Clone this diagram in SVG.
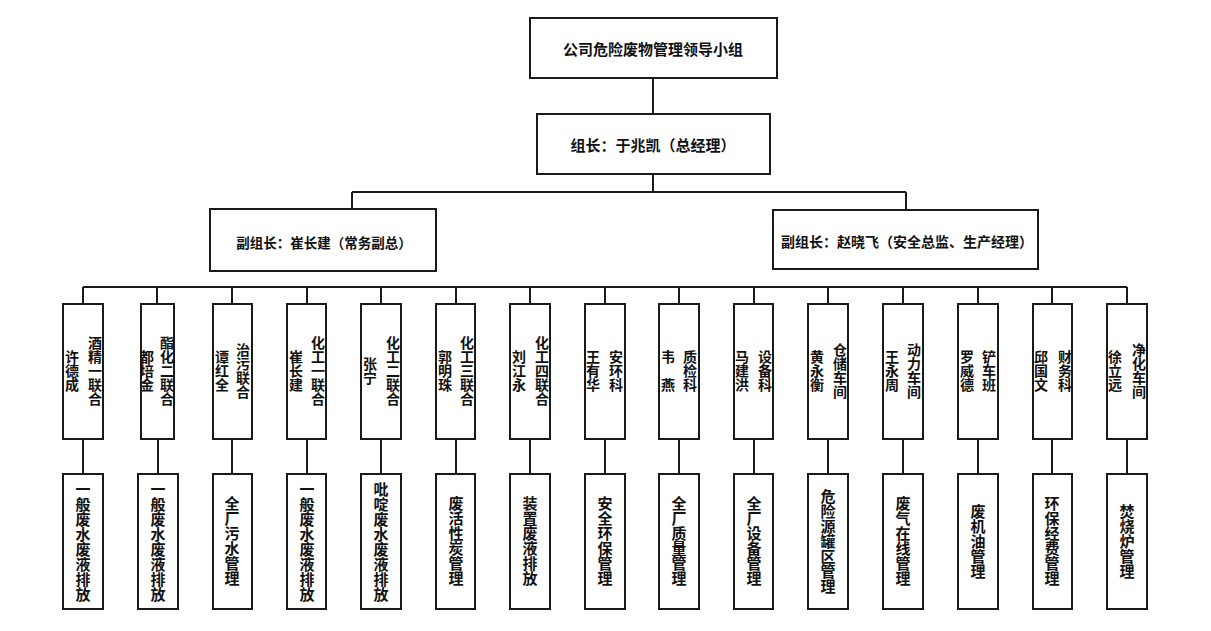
<svg xmlns="http://www.w3.org/2000/svg" width="1211" height="631" viewBox="0 0 1211 631">
<style>
.box{fill:#fff;stroke:#1a1a1a;stroke-width:2}
.ln{stroke:#1a1a1a;stroke-width:2;fill:none}
text{font-family:"Noto Sans CJK SC","Liberation Serif",serif;font-weight:bold;fill:#111}
.h{text-anchor:middle;dominant-baseline:central}
.v{writing-mode:vertical-rl;text-anchor:middle;font-size:14px}
.v4{writing-mode:vertical-rl;text-anchor:middle;font-size:15px}
</style>
<rect width="1211" height="631" fill="#fff"/>
<g id="connectors">
<path class="ln" d="M653 78V114M653 174V192M352 192H906M352 192V209M906 192V210M83 287H1127"/>
<path class="ln" d="M83 287V304M157 287V304M232 287V304M307 287V304M381 287V304M456 287V304M530 287V304M605 287V304M679 287V304M754 287V304M828 287V304M903 287V304M978 287V304M1052 287V304M1127 287V304"/>
<path class="ln" d="M83 439V474M158 439V474M232 439V474M307 439V474M381 439V474M456 439V474M530 439V474M605 439V474M679 439V474M754 439V474M828 439V474M903 439V474M978 439V474M1052 439V474M1127 439V474"/>
</g>
<g id="n-top"><rect class="box" x="530" y="18" width="247" height="60"/><text class="h" x="653" y="48" font-size="15">公司危险废物管理领导小组</text></g>
<g id="n-leader"><rect class="box" x="537" y="114" width="233" height="60"/><text class="h" x="653" y="144" font-size="15">组长：于兆凯（总经理）</text></g>
<g id="n-vice1"><rect class="box" x="210" y="209" width="226" height="62"/><text class="h" x="324" y="242" font-size="13.5">副组长：崔长建（常务副总）</text></g>
<g id="n-vice2"><rect class="box" x="773" y="210" width="265" height="59"/><text class="h" x="907" y="241" font-size="14">副组长：赵晓飞（安全总监、生产经理）</text></g>

<g id="n-d1"><rect class="box" x="63" y="304" width="40" height="135"/><text class="v" x="95" y="371">酒精一联合</text><text class="v" x="72" y="371">许德成</text></g>
<g id="n-d2"><rect class="box" x="141" y="304" width="33" height="135"/><text class="v" x="167" y="371">酯化二联合</text><text class="v" x="147" y="371">都培金</text></g>
<g id="n-d3"><rect class="box" x="213" y="304" width="39" height="135"/><text class="v" x="243" y="371">治污联合</text><text class="v" x="222" y="371">谭红全</text></g>
<g id="n-d4"><rect class="box" x="287" y="304" width="39" height="135"/><text class="v" x="318" y="371">化工一联合</text><text class="v" x="296" y="371">崔长建</text></g>
<g id="n-d5"><rect class="box" x="361" y="304" width="40" height="135"/><text class="v" x="393" y="371">化工二联合</text><text class="v" x="370" y="371">张宁</text></g>
<g id="n-d6"><rect class="box" x="436" y="304" width="39" height="135"/><text class="v" x="467" y="371">化工三联合</text><text class="v" x="445" y="371">郭明珠</text></g>
<g id="n-d7"><rect class="box" x="510" y="304" width="40" height="135"/><text class="v" x="542" y="371">化工四联合</text><text class="v" x="519" y="371">刘江永</text></g>
<g id="n-d8"><rect class="box" x="585" y="304" width="40" height="135"/><text class="v" x="616" y="371">安环科</text><text class="v" x="593" y="371">王有华</text></g>
<g id="n-d9"><rect class="box" x="659" y="304" width="40" height="135"/><text class="v" x="690" y="371">质检科</text><text class="v" x="668" y="371">韦　燕</text></g>
<g id="n-d10"><rect class="box" x="734" y="304" width="39" height="135"/><text class="v" x="765" y="371">设备科</text><text class="v" x="742" y="371">马建洪</text></g>
<g id="n-d11"><rect class="box" x="808" y="304" width="40" height="135"/><text class="v" x="840" y="371">仓储车间</text><text class="v" x="817" y="371">黄永衡</text></g>
<g id="n-d12"><rect class="box" x="883" y="304" width="40" height="135"/><text class="v" x="914" y="371">动力车间</text><text class="v" x="892" y="371">王永周</text></g>
<g id="n-d13"><rect class="box" x="958" y="304" width="40" height="135"/><text class="v" x="989" y="371">铲车班</text><text class="v" x="967" y="371">罗威德</text></g>
<g id="n-d14"><rect class="box" x="1033" y="304" width="39" height="135"/><text class="v" x="1065" y="371">财务科</text><text class="v" x="1041" y="371">邱国文</text></g>
<g id="n-d15"><rect class="box" x="1107" y="304" width="40" height="135"/><text class="v" x="1139" y="371">净化车间</text><text class="v" x="1115" y="371">徐立远</text></g>

<g id="n-t1"><rect class="box" x="63" y="474" width="40" height="135"/><text class="v4" x="83" y="542">一般废水废液排放</text></g>
<g id="n-t2"><rect class="box" x="138" y="474" width="40" height="135"/><text class="v4" x="158" y="542">一般废水废液排放</text></g>
<g id="n-t3"><rect class="box" x="213" y="474" width="39" height="135"/><text class="v4" x="232" y="541">全厂污水管理</text></g>
<g id="n-t4"><rect class="box" x="287" y="474" width="39" height="135"/><text class="v4" x="307" y="542">一般废水废液排放</text></g>
<g id="n-t5"><rect class="box" x="361" y="474" width="40" height="135"/><text class="v4" x="381" y="542">吡啶废水废液排放</text></g>
<g id="n-t6"><rect class="box" x="436" y="474" width="39" height="135"/><text class="v4" x="456" y="541">废活性炭管理</text></g>
<g id="n-t7"><rect class="box" x="510" y="474" width="40" height="135"/><text class="v4" x="530" y="541">装置废液排放</text></g>
<g id="n-t8"><rect class="box" x="585" y="474" width="40" height="135"/><text class="v4" x="605" y="541">安全环保管理</text></g>
<g id="n-t9"><rect class="box" x="659" y="474" width="40" height="135"/><text class="v4" x="679" y="541">全厂质量管理</text></g>
<g id="n-t10"><rect class="box" x="734" y="474" width="39" height="135"/><text class="v4" x="754" y="541">全厂设备管理</text></g>
<g id="n-t11"><rect class="box" x="808" y="474" width="40" height="135"/><text class="v4" x="828" y="541">危险源罐区管理</text></g>
<g id="n-t12"><rect class="box" x="883" y="474" width="40" height="135"/><text class="v4" x="903" y="541">废气在线管理</text></g>
<g id="n-t13"><rect class="box" x="958" y="474" width="40" height="135"/><text class="v4" x="978" y="541">废机油管理</text></g>
<g id="n-t14"><rect class="box" x="1033" y="474" width="39" height="135"/><text class="v4" x="1052" y="541">环保经费管理</text></g>
<g id="n-t15"><rect class="box" x="1107" y="474" width="40" height="135"/><text class="v4" x="1127" y="541">焚烧炉管理</text></g>
</svg>
